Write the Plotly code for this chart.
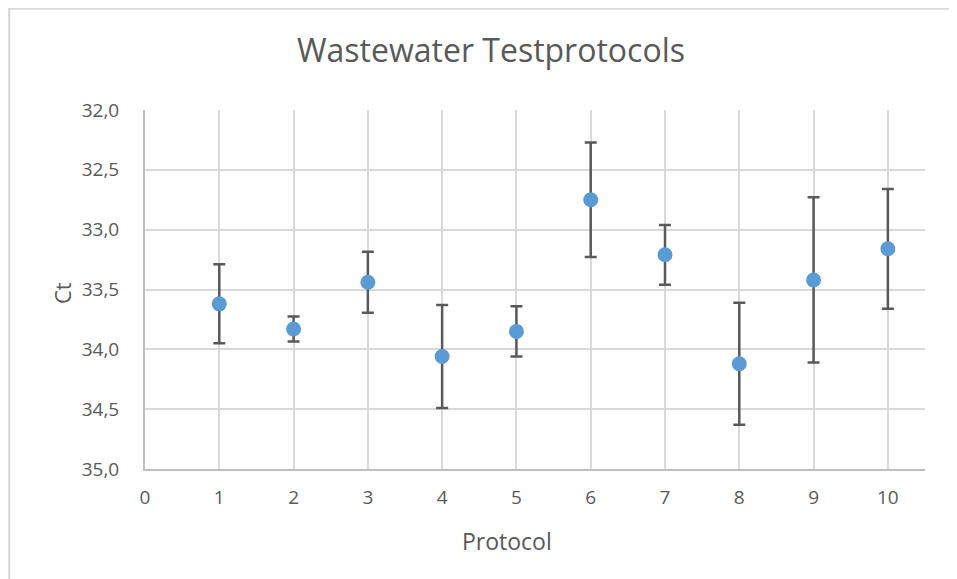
import plotly.graph_objects as go

# Ct mean per protocol and its error
protocols = [1, 2, 3, 4, 5, 6, 7, 8, 9, 10]
ct_mean = [33.62, 33.83, 33.44, 34.06, 33.85, 32.75, 33.21, 34.12, 33.42, 33.16]
ct_err = [0.33, 0.105, 0.255, 0.43, 0.21, 0.478, 0.25, 0.51, 0.69, 0.50]

y_ticks = [32.0, 32.5, 33.0, 33.5, 34.0, 34.5, 35.0]
x_ticks = list(range(0, 11))

FONT = "Open Sans"
GREY_TXT = "#595959"
W, H = 957, 579
OFF = 8  # page body margin shifts the figure by this much

# plot area edges in screen pixels
left, right, top, bottom = 145, 925, 110, 469
pw, ph = right - left, bottom - top


def px(x):
    return (x - left) / pw


def py(y):
    return (bottom - y) / ph


fig = go.Figure(
    go.Scatter(
        x=protocols,
        y=ct_mean,
        mode="markers",
        marker=dict(color="#5B9BD5", size=15),
        error_y=dict(
            type="data",
            array=ct_err,
            visible=True,
            color="#595959",
            thickness=2.5,
            width=6,
        ),
        showlegend=False,
    )
)

fig.update_layout(
    width=W,
    height=H,
    margin=dict(l=left - OFF, r=W - right + OFF, t=top - OFF, b=H - bottom + OFF),
    paper_bgcolor="white",
    plot_bgcolor="white",
    separators=",.",
    font=dict(family=FONT, color=GREY_TXT),
    title=dict(
        text="Wastewater Testprotocols",
        font=dict(family=FONT, size=32, color=GREY_TXT),
        x=(491 - OFF) / W,
        xanchor="center",
        xref="container",
        y=1 - (51 - OFF) / H,
        yanchor="middle",
        yref="container",
    ),
)

fig.update_xaxes(
    range=[0, 10.5],
    tickvals=x_ticks,
    showgrid=True,
    gridcolor="#d9d9d9",
    gridwidth=2,
    zeroline=False,
    showline=True,
    linecolor="#bfbfbf",
    linewidth=2,
    ticks="outside",
    ticklen=10,
    tickcolor="rgba(0,0,0,0)",
    tickfont=dict(size=19, color=GREY_TXT),
)
fig.update_yaxes(
    range=[35, 32],
    tickvals=y_ticks,
    tickformat=".1f",
    showgrid=True,
    gridcolor="#d9d9d9",
    gridwidth=2,
    zeroline=False,
    showline=True,
    linecolor="#bfbfbf",
    linewidth=2,
    ticks="outside",
    ticklen=20,
    tickcolor="rgba(0,0,0,0)",
    tickfont=dict(size=19, color=GREY_TXT),
)

# axis titles placed like the original
fig.add_annotation(
    text="Protocol", xref="paper", yref="paper",
    x=px(507), y=py(541),
    showarrow=False, font=dict(size=23, color=GREY_TXT),
    xanchor="center", yanchor="middle",
)
fig.add_annotation(
    text="Ct", xref="paper", yref="paper",
    x=px(62), y=py(293),
    showarrow=False, textangle=-90, font=dict(size=22, color=GREY_TXT),
    xanchor="center", yanchor="middle",
)

# chart area border
fig.add_shape(
    type="rect", xref="paper", yref="paper",
    x0=px(9), x1=px(975),
    y0=py(595), y1=py(8.5),
    line=dict(color="#d9d9d9", width=2.5),
    layer="below",
)

fig.write_html("out.html")
